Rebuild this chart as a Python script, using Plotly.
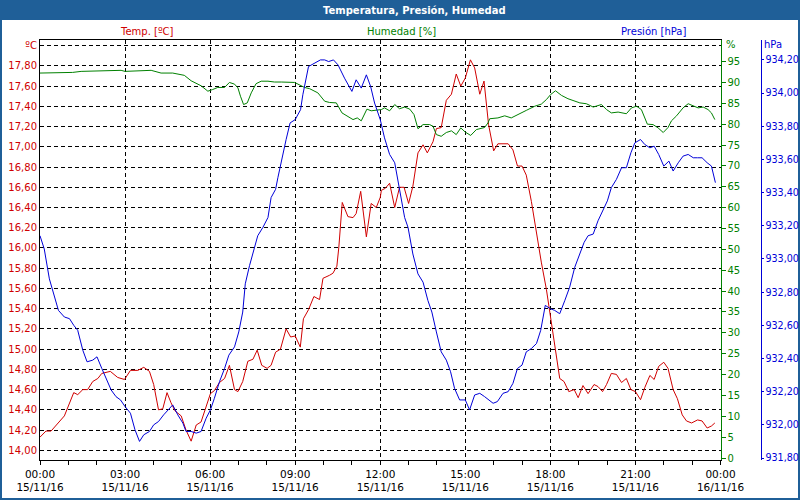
import pandas as pd
import plotly.graph_objects as go

# ---------------- data ----------------
temp_hours = [0.00, 0.21, 0.39, 0.86, 1.19, 1.33, 1.51, 1.68, 1.86, 2.04, 2.18, 2.48, 2.74, 2.98,
              3.19, 3.45, 3.66, 3.86, 4.01, 4.18, 4.33, 4.48, 4.62, 4.76, 4.98, 5.15, 5.33, 5.51,
              5.68, 5.86, 6.01, 6.15, 6.33, 6.51, 6.68, 6.86, 6.98, 7.15, 7.33, 7.51, 7.66, 7.82,
              8.01, 8.15, 8.31, 8.48, 8.68, 8.84, 9.00, 9.18, 9.29, 9.47, 9.66, 9.86, 9.98, 10.21,
              10.33, 10.47, 10.54, 10.66, 10.86, 11.04, 11.15, 11.31, 11.39, 11.51, 11.68, 11.86,
              12.00, 12.04, 12.18, 12.33, 12.51, 12.68, 12.84, 13.00, 13.15, 13.33, 13.51, 13.66,
              13.86, 13.98, 14.15, 14.33, 14.51, 14.68, 14.84, 15.00, 15.18, 15.33, 15.51, 15.66,
              15.82, 16.00, 16.15, 16.33, 16.51, 16.68, 16.84, 17.00, 17.15, 17.33, 17.51, 17.68,
              17.86, 18.00, 18.15, 18.33, 18.48, 18.65, 18.84, 18.98, 19.15, 19.33, 19.54, 19.68,
              19.84, 19.98, 20.15, 20.33, 20.51, 20.68, 20.84, 21.00, 21.18, 21.33, 21.51, 21.66,
              21.82, 22.00, 22.15, 22.33, 22.48, 22.65, 22.80, 22.98, 23.19, 23.35, 23.53, 23.68,
              23.80]
temp_values = [14.13, 14.19, 14.19, 14.34, 14.57, 14.55, 14.60, 14.60, 14.68, 14.71, 14.76, 14.78,
               14.72, 14.70, 14.79, 14.79, 14.82, 14.78, 14.65, 14.40, 14.41, 14.57, 14.47, 14.39,
               14.34, 14.20, 14.09, 14.25, 14.28, 14.43, 14.56, 14.59, 14.67, 14.71, 14.84, 14.60,
               14.58, 14.68, 14.88, 14.90, 14.99, 14.84, 14.81, 14.84, 14.97, 15.00, 15.20, 15.12,
               15.13, 15.02, 15.30, 15.39, 15.52, 15.49, 15.70, 15.73, 15.75, 15.82, 16.01, 16.45,
               16.31, 16.30, 16.34, 16.56, 16.36, 16.11, 16.44, 16.40, 16.50, 16.57, 16.59, 16.64,
               16.40, 16.60, 16.60, 16.44, 16.61, 16.94, 17.02, 16.94, 17.05, 17.18, 17.19, 17.46,
               17.52, 17.72, 17.60, 17.68, 17.86, 17.78, 17.52, 17.65, 17.22, 16.96, 17.03, 17.03,
               17.03, 16.97, 16.81, 16.81, 16.72, 16.46, 16.13, 15.86, 15.59, 15.34, 15.04, 14.71,
               14.68, 14.58, 14.60, 14.52, 14.64, 14.56, 14.65, 14.63, 14.58, 14.65, 14.76, 14.75,
               14.67, 14.71, 14.60, 14.58, 14.50, 14.62, 14.74, 14.70, 14.83, 14.87, 14.81, 14.60,
               14.51, 14.35, 14.29, 14.27, 14.30, 14.29, 14.22, 14.24, 14.27]

hum_hours = [0.00, 1.04, 1.15, 1.45, 2.39, 2.51, 2.86, 3.00, 3.80, 3.92, 4.27, 4.68, 5.09, 5.33,
             5.68, 5.92, 6.09, 6.27, 6.51, 6.68, 6.86, 6.98, 7.07, 7.18, 7.31, 7.45, 7.62, 7.80,
             8.04, 8.27, 8.51, 8.98, 9.33, 9.51, 9.80, 10.04, 10.21, 10.45, 10.65, 10.86, 11.04,
             11.19, 11.33, 11.53, 11.68, 12.04, 12.15, 12.33, 12.51, 12.68, 12.86, 13.04, 13.19,
             13.33, 13.51, 13.74, 13.86, 13.98, 14.15, 14.33, 14.51, 14.68, 14.84, 15.00, 15.19,
             15.39, 15.68, 15.80, 15.86, 16.15, 16.39, 16.62, 16.86, 17.15, 17.45, 17.68, 17.86,
             18.01, 18.18, 18.39, 18.62, 18.86, 19.04, 19.27, 19.51, 19.80, 19.98, 20.15, 20.39,
             20.68, 20.86, 21.04, 21.21, 21.42, 21.62, 21.80, 21.98, 22.15, 22.27, 22.45, 22.68,
             22.86, 23.04, 23.21, 23.39, 23.56, 23.68, 23.80]
hum_values = [92.25, 92.25, 92.4, 92.65, 92.8, 92.9, 92.9, 92.65, 92.8, 92.9, 92.25, 92.25, 91.7,
              90.4, 89.2, 87.9, 88.3, 88.8, 88.8, 90.0, 89.6, 88.7, 86.7, 84.7, 85.1, 87.5, 89.7,
              90.3, 90.3, 90.1, 90.1, 90.0, 88.8, 88.5, 87.5, 85.5, 85.2, 85.1, 82.7, 81.9, 81.1,
              81.5, 80.8, 83.6, 83.2, 83.5, 83.9, 83.2, 84.7, 83.7, 84.1, 83.6, 82.3, 78.9, 79.9,
              79.9, 79.5, 77.5, 77.1, 78.0, 78.4, 77.5, 79.1, 78.1, 77.3, 78.7, 79.2, 80.3, 81.3,
              81.5, 82.0, 81.5, 82.4, 83.3, 84.3, 84.8, 85.9, 87.1, 88.0, 86.9, 86.1, 85.6, 85.1,
              84.9, 84.1, 84.7, 83.5, 82.7, 82.9, 82.5, 83.9, 84.3, 83.5, 80.0, 79.9, 79.1, 78.0,
              79.2, 80.8, 82.0, 83.9, 84.9, 84.4, 83.9, 84.1, 83.5, 82.7, 81.1]

pres_hours = [0.00, 0.15, 0.33, 0.51, 0.65, 0.86, 1.04, 1.19, 1.33, 1.51, 1.66, 1.86, 2.01, 2.18,
              2.33, 2.51, 2.68, 2.84, 3.00, 3.19, 3.35, 3.51, 3.66, 3.86, 4.01, 4.18, 4.36, 4.68,
              4.86, 5.04, 5.15, 5.33, 5.51, 5.68, 5.86, 6.01, 6.15, 6.33, 6.51, 6.66, 6.86, 7.01,
              7.15, 7.24, 7.39, 7.51, 7.68, 7.86, 8.04, 8.15, 8.31, 8.39, 8.56, 8.68, 8.82, 9.00,
              9.19, 9.27, 9.47, 9.68, 9.89, 10.04, 10.18, 10.35, 10.51, 10.74, 11.00, 11.15, 11.33,
              11.51, 11.66, 11.80, 12.00, 12.15, 12.33, 12.51, 12.68, 12.86, 12.98, 13.15, 13.33,
              13.51, 13.68, 13.82, 13.98, 14.15, 14.33, 14.48, 14.62, 14.80, 15.00, 15.15, 15.33,
              15.51, 15.68, 15.98, 16.13, 16.33, 16.51, 16.68, 16.84, 17.00, 17.15, 17.33, 17.51,
              17.66, 17.82, 18.00, 18.15, 18.33, 18.51, 18.68, 18.86, 19.04, 19.19, 19.33, 19.51,
              19.68, 19.82, 20.01, 20.15, 20.33, 20.51, 20.68, 20.84, 20.98, 21.18, 21.33, 21.51,
              21.66, 21.82, 22.00, 22.18, 22.33, 22.51, 22.68, 22.86, 23.04, 23.19, 23.35, 23.53,
              23.68, 23.82]
pres_values = [933.14, 933.06, 932.88, 932.78, 932.69, 932.65, 932.64, 932.60, 932.57, 932.45,
               932.38, 932.39, 932.41, 932.34, 932.28, 932.21, 932.17, 932.15, 932.11, 932.07,
               931.97, 931.90, 931.94, 931.96, 932.00, 932.02, 932.06, 932.12, 932.06, 932.01,
               931.96, 931.96, 931.95, 931.96, 932.04, 932.09, 932.16, 932.26, 932.34, 932.42,
               932.47, 932.56, 932.68, 932.85, 932.96, 933.03, 933.14, 933.19, 933.25, 933.37,
               933.42, 933.49, 933.63, 933.72, 933.82, 933.84, 933.90, 933.99, 934.16, 934.18,
               934.20, 934.20, 934.19, 934.20, 934.17, 934.09, 934.01, 934.08, 934.03, 934.11,
               934.04, 933.94, 933.84, 933.73, 933.63, 933.58, 933.43, 933.25, 933.19, 933.03,
               932.91, 932.86, 932.75, 932.68, 932.56, 932.44, 932.39, 932.32, 932.22, 932.15,
               932.15, 932.09, 932.18, 932.19, 932.17, 932.13, 932.14, 932.19, 932.20, 932.25,
               932.34, 932.36, 932.44, 932.46, 932.49, 932.57, 932.72, 932.70, 932.69, 932.67,
               932.75, 932.83, 932.95, 933.03, 933.10, 933.14, 933.15, 933.23, 933.28, 933.35,
               933.43, 933.48, 933.55, 933.55, 933.64, 933.70, 933.72, 933.69, 933.67, 933.68,
               933.63, 933.56, 933.59, 933.53, 933.58, 933.62, 933.63, 933.61, 933.61, 933.61,
               933.58, 933.56, 933.46]

temp_ticks = [14.0, 14.2, 14.4, 14.6, 14.8, 15.0, 15.2, 15.4, 15.6, 15.8, 16.0, 16.2, 16.4, 16.6,
              16.8, 17.0, 17.2, 17.4, 17.6, 17.8, 18.0]
hum_ticks = [0, 5, 10, 15, 20, 25, 30, 35, 40, 45, 50, 55, 60, 65, 70, 75, 80, 85, 90, 95]
pres_ticks = [931.8, 932.0, 932.2, 932.4, 932.6, 932.8, 933.0, 933.2, 933.4, 933.6, 933.8,
              934.0, 934.2]

title_text = "Temperatura, Presión, Humedad"
temp_name = "Temp. [ºC]"
hum_name = "Humedad [%]"
pres_name = "Presión [hPa]"
temp_unit = "ºC"
hum_unit = "%"
pres_unit = "hPa"

# ---------------- styling ----------------
RED = "#d00000"
GREEN = "#008000"
BLUE = "#0000d8"
FRAME = "#1f5f98"
FONT = "DejaVu Sans"

base = pd.Timestamp("2016-11-15 00:00")
def to_time(hours):
    return [base + pd.Timedelta(hours=h) for h in hours]

def fmt(v):
    return f"{v:.2f}".replace(".", ",")

temp_text = [fmt(v) for v in temp_ticks[:-1]] + [temp_unit]

fig = go.Figure()
fig.add_trace(go.Scatter(x=to_time(hum_hours), y=hum_values, mode="lines",
                         line=dict(color=GREEN, width=1), yaxis="y2", name=hum_name))
fig.add_trace(go.Scatter(x=to_time(pres_hours), y=pres_values, mode="lines",
                         line=dict(color=BLUE, width=1), yaxis="y3", name=pres_name))
fig.add_trace(go.Scatter(x=to_time(temp_hours), y=temp_values, mode="lines",
                         line=dict(color=RED, width=1), yaxis="y", name=temp_name))

L, R, T, B = 40, 5, 40, 40
W, H = 800, 500
PW, PH = W - L - R, H - T - B
def px(x):
    return (x - L) / PW
def py(y):
    return (H - B - y) / PH

grid = dict(gridcolor="black", griddash="4px,3px", gridwidth=1)

fig.update_layout(
    width=W, height=H,
    margin=dict(l=L, r=R, t=T, b=B, autoexpand=False),
    paper_bgcolor=FRAME, plot_bgcolor="white",
    showlegend=False,
    separators=",.",
    font=dict(family=FONT, size=10, color="black"),
    xaxis=dict(
        domain=[0, px(720.5)],
        range=[base, base + pd.Timedelta(hours=24)],
        type="date", tick0=base, dtick=3 * 3600 * 1000,
        tickformat="%H:%M<br>%d/%m/%y",
        ticks="outside", ticklen=4, tickcolor="black",
        showline=True, linecolor="black", linewidth=1, mirror=True,
        showgrid=True, **grid, automargin=False,
        minor=dict(dtick=3600 * 1000, ticks="outside", ticklen=4, tickcolor="black", showgrid=False),
        tickfont=dict(family=FONT, size=10.5, color="black"),
        zeroline=False,
    ),
    yaxis=dict(
        range=[13.904, 18.056],
        tickvals=temp_ticks, ticktext=temp_text,
        ticks="", showline=True, linecolor="black", linewidth=1,
        showgrid=True, **grid, zeroline=False, automargin=False,
        tickfont=dict(family=FONT, size=10, color=RED),
    ),
    yaxis2=dict(
        range=[-0.48, 100.17], overlaying="y", side="right", anchor="x",
        tickvals=hum_ticks, ticks="outside", ticklen=4, tickcolor=GREEN,
        showline=True, linecolor=GREEN, linewidth=1, showgrid=False, zeroline=False,
        automargin=False,
        tickfont=dict(family=FONT, size=10, color=GREEN),
    ),
    yaxis3=dict(
        range=[931.788, 934.32], overlaying="y", side="right", anchor="free",
        position=px(760.5),
        tickvals=pres_ticks, tickformat=".2f", ticks="outside", ticklen=2, tickcolor=BLUE,
        showline=True, linecolor=BLUE, linewidth=1, showgrid=False, zeroline=False,
        automargin=False,
        tickfont=dict(family=FONT, size=9.6, color=BLUE),
    ),
    shapes=[
        dict(type="rect", xref="paper", yref="paper", layer="below",
             x0=px(2), x1=px(798), y0=py(498), y1=py(20),
             fillcolor="white", line=dict(width=0)),
    ],
    annotations=[
        dict(text=f"<b>{title_text}</b>", xref="paper", yref="paper", x=px(414), y=py(10),
             showarrow=False, font=dict(family=FONT, size=10, color="white"),
             xanchor="center", yanchor="middle"),
        dict(text=temp_name, xref="paper", yref="paper", x=px(147), y=py(31),
             showarrow=False, font=dict(family=FONT, size=10, color=RED),
             xanchor="center", yanchor="middle"),
        dict(text=hum_name, xref="paper", yref="paper", x=px(401), y=py(31),
             showarrow=False, font=dict(family=FONT, size=10, color=GREEN),
             xanchor="center", yanchor="middle"),
        dict(text=pres_name, xref="paper", yref="paper", x=px(653), y=py(31),
             showarrow=False, font=dict(family=FONT, size=10, color=BLUE),
             xanchor="center", yanchor="middle"),
        dict(text=hum_unit, xref="paper", yref="paper", x=px(724), y=py(45),
             showarrow=False, font=dict(family=FONT, size=10, color=GREEN),
             xanchor="left", yanchor="middle"),
        dict(text=pres_unit, xref="paper", yref="paper", x=px(762), y=py(45),
             showarrow=False, font=dict(family=FONT, size=10, color=BLUE),
             xanchor="left", yanchor="middle"),
    ],
)

fig.write_html("out.html", config={"displayModeBar": False},
               post_script="document.body.style.margin='0px';document.body.style.overflow='hidden';")
